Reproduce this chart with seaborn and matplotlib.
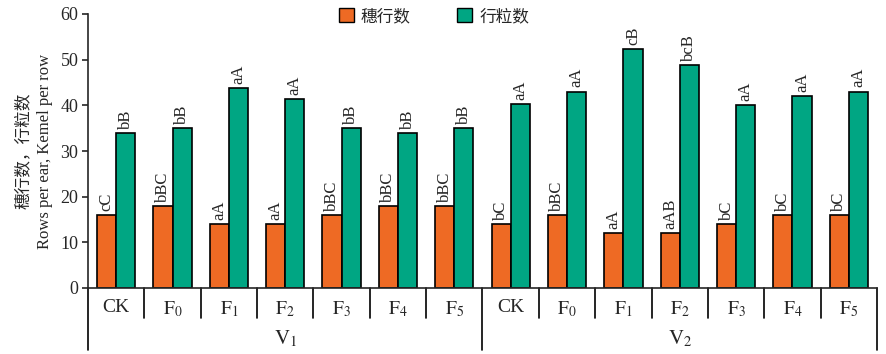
import pandas as pd
import seaborn as sns
import matplotlib.pyplot as plt

# Données
varietes = ["V1", "V2"]
traitements = ["CK", "F0", "F1", "F2", "F3", "F4", "F5"]
rangs_epi = [16, 18, 14, 14, 16, 18, 18, 14, 16, 12, 12, 14, 16, 16]
grains_rang = [34, 35, 43.8, 41.3, 35, 34, 35, 40.2, 43, 52.3, 48.8, 40.1, 42.1, 43]
lettres_epi = ["cC", "bBC", "aA", "aA", "bBC", "bBC", "bBC",
               "bC", "bBC", "aA", "aAB", "bC", "bC", "bC"]
lettres_rang = ["bB", "bB", "aA", "aA", "bB", "bB", "bB",
                "aA", "aA", "cB", "bcB", "aA", "aA", "aA"]
series = ["穗行数", "行粒数"]
couleurs = ["#EE6A24", "#00A683"]

sns.set_style("ticks")
plt.rcParams['font.family'] = ['Liberation Serif', 'Noto Sans CJK SC']
plt.rcParams['mathtext.fontset'] = 'stix'

cles = [f"{v}-{t}" for v in varietes for t in traitements]
df = pd.DataFrame({
    "cle": cles * 2,
    "valeur": rangs_epi + grains_rang,
    "serie": [series[0]] * len(cles) + [series[1]] * len(cles),
})

fig = plt.figure(figsize=(8.86, 3.54), dpi=100)
ax = fig.add_axes([88 / 886, 66 / 354, 789 / 886, 274 / 354])

sns.barplot(data=df, x="cle", y="valeur", hue="serie", order=cles,
            palette=couleurs, width=0.68, edgecolor="black", linewidth=1.2,
            saturation=1, ax=ax)

# Lettres de significativité
for cont, lettres in zip(ax.containers, [lettres_epi, lettres_rang]):
    for barre, lettre in zip(cont, lettres):
        ax.annotate(lettre, (barre.get_x() + barre.get_width() / 2, barre.get_height()),
                    xytext=(0, 3), textcoords="offset points", rotation=90,
                    ha="center", va="bottom", fontsize=12)

ax.set_xlim(-0.5, len(cles) - 0.5)
ax.set_ylim(0, 60)
ax.set_yticks(range(0, 61, 10))
ax.tick_params(axis="y", labelsize=13, length=4, width=1.2, direction="out", pad=3)

labels = []
for v in varietes:
    for t in traitements:
        labels.append("CK" if t == "CK" else r"$\mathrm{F}_{%s}$" % t[1])
ax.set_xticks(range(len(cles)))
ax.set_xticklabels(labels, fontsize=14)
ax.tick_params(axis="x", length=0, pad=8)
ax.set_xlabel("")
ax.set_ylabel("穗行数，行粒数\nRows per ear, Kemel per row", fontsize=12,
              labelpad=5, linespacing=1.45)

for s in ["top", "right"]:
    ax.spines[s].set_visible(False)
for s in ["left", "bottom"]:
    ax.spines[s].set_linewidth(1.2)

# Séparateurs sous l'axe
trans = ax.get_xaxis_transform()
for k in range(len(cles)):
    xs = k + 0.5
    if k in (6, 13):
        ax.plot([xs, xs], [0, -0.226], color="black", lw=1.2, transform=trans, clip_on=False)
    else:
        ax.plot([xs, xs], [0, -0.11], color="black", lw=1.2, transform=trans, clip_on=False)
ax.plot([0, 0], [0, -0.226], color="black", lw=1.2, transform=ax.transAxes, clip_on=False)

for i, v in enumerate(varietes):
    centre = i * len(traitements) + (len(traitements) - 1) / 2
    ax.text(centre, -0.185, r"$\mathrm{V}_{%s}$" % v[1], transform=trans,
            ha="center", va="center", fontsize=15)

ax.legend_.remove()
handles = [plt.Rectangle((0, 0), 1, 1, facecolor=c, edgecolor="black", lw=1) for c in couleurs]
fig.legend(handles, series, loc="upper center", bbox_to_anchor=(0.49, 1.02), ncol=2,
           frameon=False, handlelength=0.9, handleheight=0.9, columnspacing=2.8,
           handletextpad=0.4, prop={"family": "Noto Sans CJK SC", "size": 12})

plt.savefig("out.png", dpi=100)
